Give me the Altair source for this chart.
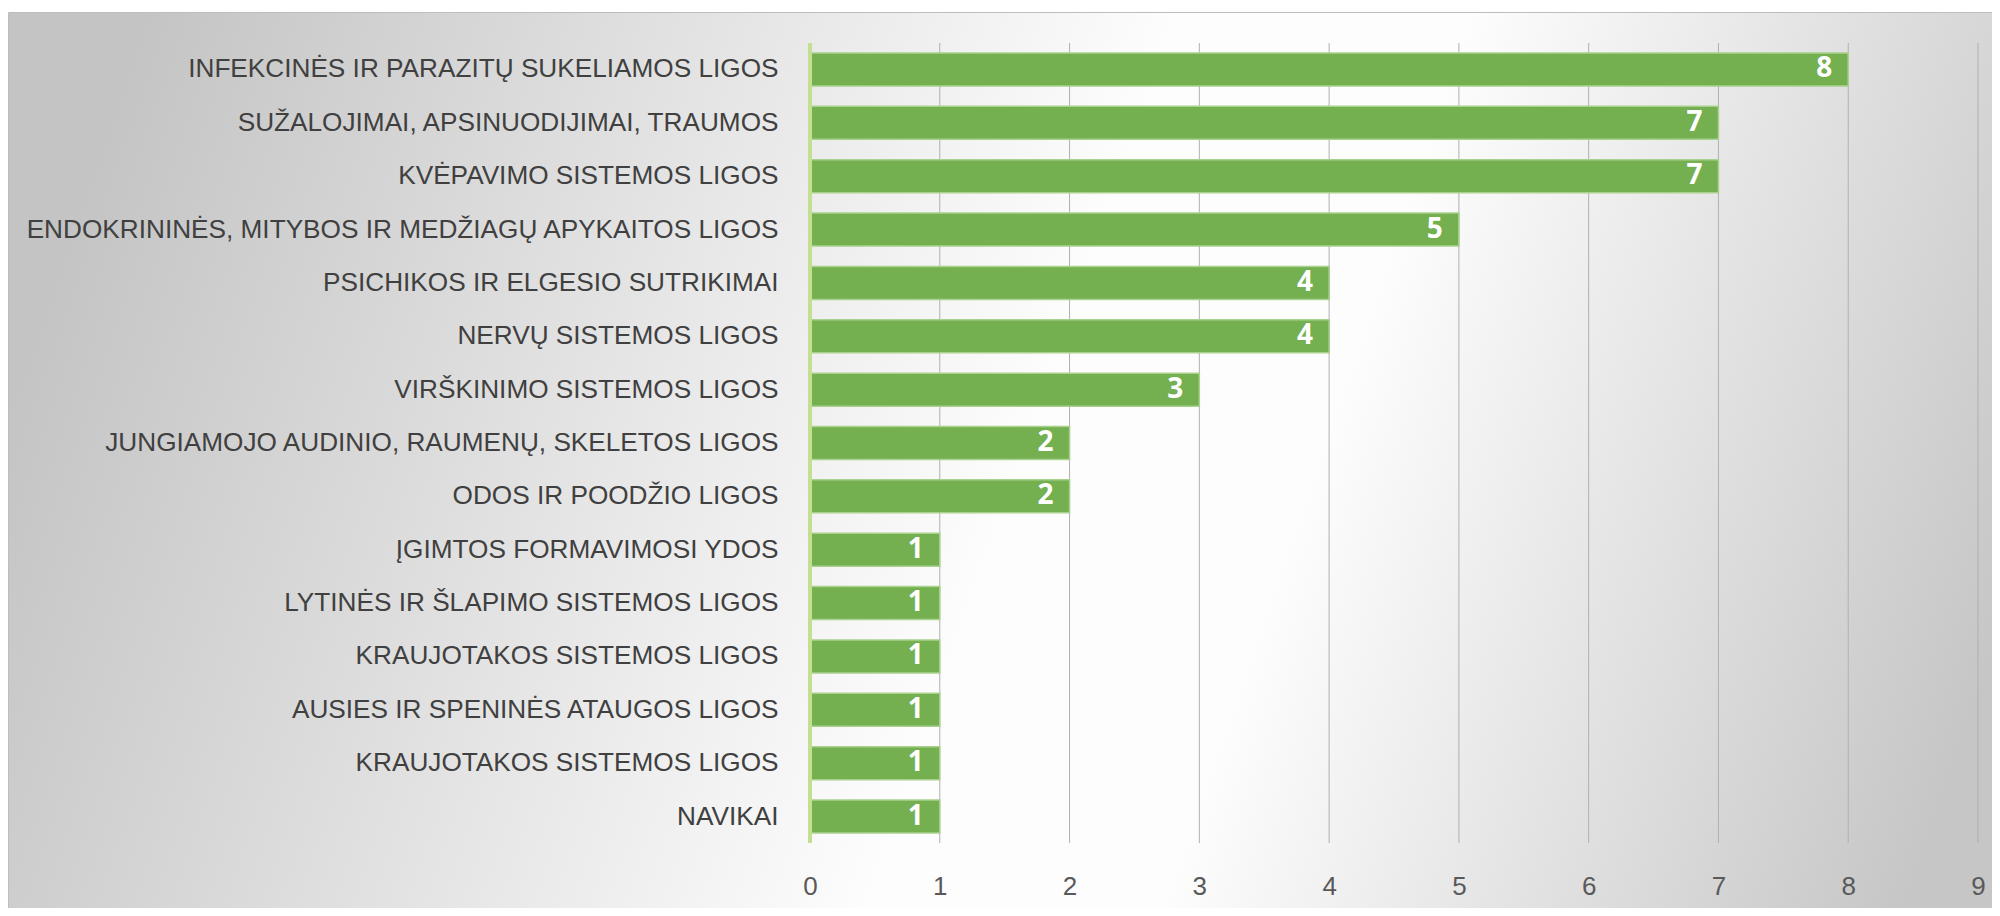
import json
import altair as alt
import pandas as pd

categories = [
    "INFEKCINĖS IR PARAZITŲ SUKELIAMOS LIGOS",
    "SUŽALOJIMAI, APSINUODIJIMAI, TRAUMOS",
    "KVĖPAVIMO SISTEMOS LIGOS",
    "ENDOKRININĖS, MITYBOS IR MEDŽIAGŲ APYKAITOS LIGOS",
    "PSICHIKOS IR ELGESIO SUTRIKIMAI",
    "NERVŲ SISTEMOS LIGOS",
    "VIRŠKINIMO SISTEMOS LIGOS",
    "JUNGIAMOJO AUDINIO, RAUMENŲ, SKELETOS LIGOS",
    "ODOS IR POODŽIO LIGOS",
    "ĮGIMTOS FORMAVIMOSI YDOS",
    "LYTINĖS IR ŠLAPIMO SISTEMOS LIGOS",
    "KRAUJOTAKOS SISTEMOS LIGOS",
    "AUSIES IR SPENINĖS ATAUGOS LIGOS",
    "KRAUJOTAKOS SISTEMOS LIGOS",
    "NAVIKAI",
]
values = [8, 7, 7, 5, 4, 4, 3, 2, 2, 1, 1, 1, 1, 1, 1]
x_ticks = [0, 1, 2, 3, 4, 5, 6, 7, 8, 9]

df = pd.DataFrame({"rank": list(range(len(categories))), "category": categories, "value": values})
grid_df = pd.DataFrame({"value": x_ticks[1:]})
zero_df = pd.DataFrame({"value": [0]})
bg_df = pd.DataFrame({"a": [0]})

label_expr = json.dumps(categories, ensure_ascii=False) + "[datum.value]"

x_enc = alt.X(
    "value:Q",
    scale=alt.Scale(domain=[0, 9], nice=False, zero=True),
    axis=alt.Axis(values=x_ticks, title=None, zindex=2, labelFlush=False),
)
y_enc = alt.Y(
    "rank:O",
    scale=alt.Scale(paddingInner=0.382, paddingOuter=0.187),
    axis=alt.Axis(labelExpr=label_expr, title=None, zindex=2),
)

gradient = alt.Gradient(
    gradient="linear",
    stops=[
        alt.GradientStop(offset=0, color="#c4c4c4"),
        alt.GradientStop(offset=0.5, color="#fdfdfd"),
        alt.GradientStop(offset=0.64, color="#fdfdfd"),
        alt.GradientStop(offset=1, color="#c6c6c6"),
    ],
    x1=0, y1=0.42, x2=1, y2=0.58,
)

background = alt.Chart(bg_df).mark_rect(
    fill=gradient, stroke="#bdbdbd", strokeWidth=1
).encode(
    x=alt.value(-801.5), x2=alt.value(1220), y=alt.value(-30.5), y2=alt.value(900)
)

grid = alt.Chart(grid_df).mark_rule(color="#b0b0b0", strokeWidth=1).encode(x=x_enc)

bars = alt.Chart(df).mark_bar(
    color="#74AF50", stroke="#A9D18E", strokeWidth=1.5
).encode(x=x_enc, y=y_enc)

zero_line = alt.Chart(zero_df).mark_rule(color="#C4DF92", strokeWidth=4).encode(x=x_enc)

labels = alt.Chart(df).mark_text(
    align="right", baseline="middle", dx=-16, color="white",
    font="Open Sans", fontWeight="bold", fontSize=28,
).encode(x=x_enc, y=y_enc, text=alt.Text("value:Q"))

chart = alt.layer(background, grid, bars, zero_line, labels).properties(
    width=1168,
    height=800,
    autosize=alt.AutoSizeParams(type="none"),
    padding={"left": 802, "top": 35, "right": 14, "bottom": 65},
    background="white",
).configure_view(
    stroke=None
).configure_axis(
    grid=False, domain=False, ticks=False,
    labelFont="Liberation Sans",
).configure_axisY(
    labelFontSize=26.2, labelPadding=32, labelColor="#404040", labelLimit=2000,
).configure_axisX(
    labelFontSize=26, labelPadding=30, labelColor="#595959",
)

chart.save("out.html", embed_options={"renderer": "svg", "actions": False})
